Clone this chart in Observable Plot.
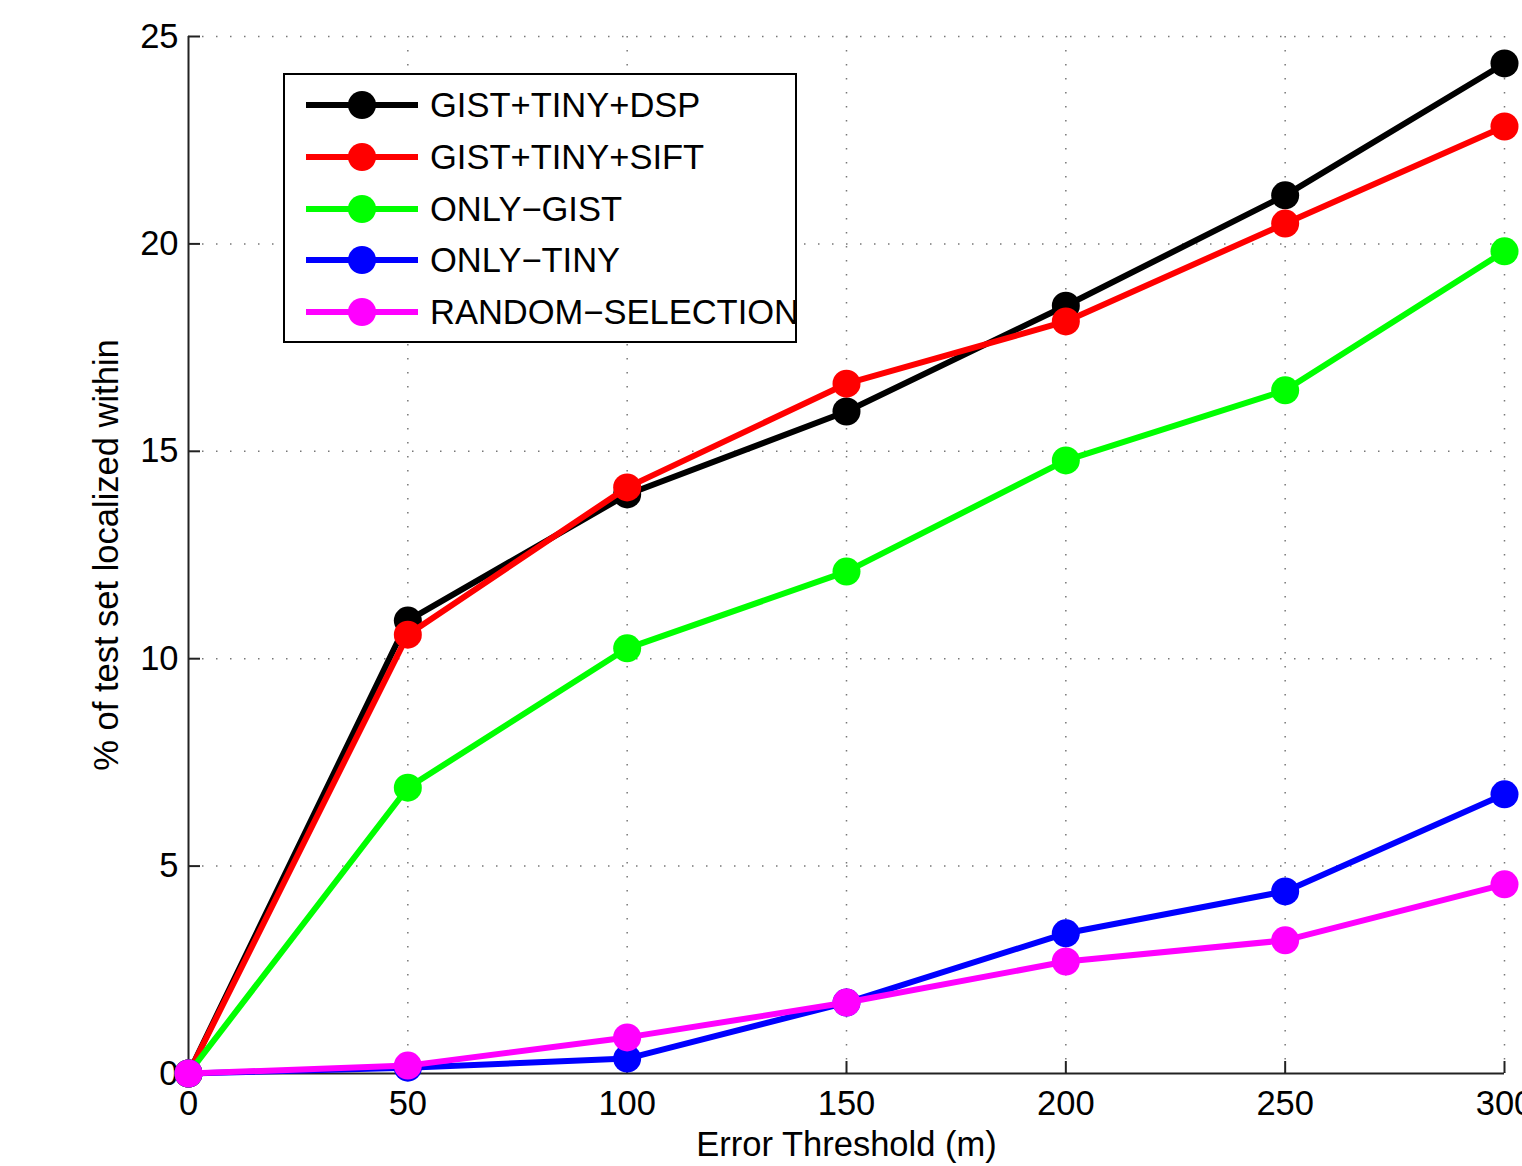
<!DOCTYPE html>
<html><head><meta charset="utf-8">
<script src="https://cdn.jsdelivr.net/npm/d3@7"></script>
<script src="https://cdn.jsdelivr.net/npm/@observablehq/plot@0.6"></script>
<style>
body{margin:0;background:#fff;overflow:hidden;}
#wrap{position:relative;width:1522px;height:1166px;overflow:hidden;font-family:"Liberation Sans",Arial,sans-serif;}
#legend{position:absolute;left:283px;top:73px;width:510px;height:266px;border:2px solid #000;background:#fff;overflow:visible;}
.row{position:absolute;left:0;height:40px;display:flex;align-items:center;}
.row span{font-size:34.5px;color:#000;margin-left:12px;white-space:nowrap;}
</style></head>
<body><div id="wrap"><div id="chart"></div><div id="legend"></div></div>
<script>
const thresholds = [0, 50, 100, 150, 200, 250, 300];
const gistTinyDsp = [0, 10.92, 13.96, 15.96, 18.51, 21.17, 24.35];
const gistTinySift = [0, 10.58, 14.13, 16.63, 18.13, 20.49, 22.83];
const onlyGist = [0, 6.89, 10.25, 12.10, 14.78, 16.47, 19.82];
const onlyTiny = [0, 0.14, 0.36, 1.71, 3.38, 4.39, 6.73];
const randomSelection = [0, 0.19, 0.87, 1.71, 2.70, 3.21, 4.56];
const seriesNames = ["GIST+TINY+DSP", "GIST+TINY+SIFT", "ONLY\u2212GIST", "ONLY\u2212TINY", "RANDOM\u2212SELECTION"];
const seriesColors = ["#000000", "#ff0000", "#00ff00", "#0000ff", "#ff00ff"];
const xTicks = [0, 50, 100, 150, 200, 250, 300];
const yTicks = [0, 5, 10, 15, 20, 25];

const allSeries = [gistTinyDsp, gistTinySift, onlyGist, onlyTiny, randomSelection];
const W = 1522, H = 1166, mL = 188, mR = 18, mT = 36, mB = 93;
const pw = W - mL - mR, ph = H - mT - mB;

const marks = [
  Plot.gridX(xTicks.slice(1), {stroke: "#777", strokeOpacity: 1, strokeWidth: 1.5, strokeDasharray: "1.5,12.5"}),
  Plot.gridY(yTicks.slice(1), {stroke: "#777", strokeOpacity: 1, strokeWidth: 1.5, strokeDasharray: "1.5,12.5"}),
  Plot.ruleX([0], {stroke: "#222", strokeWidth: 2}),
  Plot.ruleY([0], {stroke: "#222", strokeWidth: 2}),
  Plot.tickX(xTicks, {x: d => d, stroke: "#222", strokeWidth: 2, insetTop: ph - 12}),
  Plot.tickY(yTicks, {y: d => d, stroke: "#222", strokeWidth: 2, insetRight: pw - 12}),
  Plot.axisX(xTicks, {tickSize: 0, tickPadding: 17, fontSize: 34.5, label: "Error Threshold (m)", labelAnchor: "center", labelArrow: "none", labelOffset: 82}),
  Plot.axisY(yTicks, {tickSize: 0, tickPadding: 10, fontSize: 34.5, label: "% of test set localized within", labelAnchor: "center", labelArrow: "none", labelOffset: 95})
];
allSeries.forEach((vals, i) => {
  const data = thresholds.map((t, j) => ({x: t, y: vals[j]}));
  marks.push(Plot.line(data, {x: "x", y: "y", stroke: seriesColors[i], strokeWidth: 6}));
  marks.push(Plot.dot(data, {x: "x", y: "y", r: 14, fill: seriesColors[i], stroke: "none"}));
});

const chart = Plot.plot({
  width: W, height: H,
  marginLeft: mL, marginRight: mR, marginTop: mT, marginBottom: mB,
  style: {fontFamily: "'Liberation Sans', Arial, sans-serif", color: "#000", background: "#fff", overflow: "visible"},
  x: {domain: [0, 300]},
  y: {domain: [0, 25]},
  marks
});
document.getElementById("chart").appendChild(chart);

const legend = document.getElementById("legend");
const rowCenters = [105, 157, 209, 260, 312];
seriesNames.forEach((name, i) => {
  const row = document.createElement("div");
  row.className = "row";
  row.style.top = (rowCenters[i] - 75 - 20) + "px";
  row.style.left = (306 - 285) + "px";
  const svg = d3.create("svg").attr("width", 112).attr("height", 40);
  svg.append("line").attr("x1", 0).attr("x2", 112).attr("y1", 20).attr("y2", 20).attr("stroke", seriesColors[i]).attr("stroke-width", 6);
  svg.append("circle").attr("cx", 56).attr("cy", 20).attr("r", 14).attr("fill", seriesColors[i]);
  row.appendChild(svg.node());
  const s = document.createElement("span");
  s.textContent = name;
  row.appendChild(s);
  legend.appendChild(row);
});
</script></body></html>
